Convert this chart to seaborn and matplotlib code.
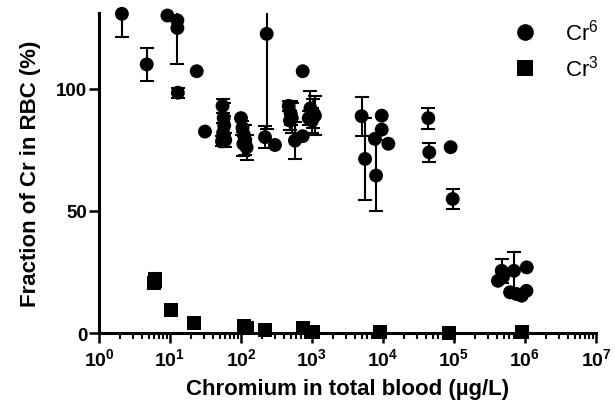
import matplotlib

matplotlib.use("Agg")

import matplotlib.pyplot as plt
import numpy as np
import pandas as pd
import seaborn as sns
from matplotlib.ticker import FixedLocator, LogLocator, NullFormatter

# Cr(VI) points: blood concentration (ug/L), fraction in RBC (%), SD
cr6_x = [2.1, 4.7, 9.2, 12.7, 12.7, 12.9, 23.8, 31.1,
         55, 57, 58, 56, 60, 54,
         100, 105, 110, 115, 120, 108, 230, 218, 301,
         470, 500, 520, 490, 575, 740, 740,
         950, 1050, 900, 1000, 1100,
         5000, 5600, 8000, 7700, 9600, 9600, 11900,
         43500, 44900, 89800, 96000,
         470000, 700000, 1060000, 417000, 490000, 617000, 760000, 900000, 1050000]
cr6_y = [130.7, 110, 130, 128, 124.9, 98.4, 107.2, 82.5,
         93, 88, 85, 82, 79, 78.5,
         88, 84, 81, 79, 76, 77.5, 122.5, 80.2, 77,
         93, 90, 88, 87, 78.8, 80.6, 107.2,
         92, 90, 88, 87, 89,
         88.8, 71.3, 64.5, 79.5, 89, 83.3, 77.5,
         88, 74, 76.1, 54.9,
         25.5, 25.5, 26.9, 21.4, 23, 16.7, 16, 15.3, 17.3]
cr6_sd = [9.3, 6.7, 0, 0, 14.7, 2, 0, 0,
          3, 6, 4, 4, 3, 2,
          0, 3, 4, 6, 5, 5, 39, 4.4, 0,
          2, 5, 6, 4, 7.5, 0, 0,
          7, 6, 3, 5, 8,
          8, 16.8, 14.6, 0, 0, 0, 0,
          4.3, 4, 0, 4,
          4.8, 7.5, 0, 0, 0, 0, 0, 0, 0]

# Cr(III) points
cr3_x = [6.1, 5.9, 10.3, 21.8, 110, 120, 218, 740, 1030, 9100, 85000, 910000]
cr3_y = [21.8, 20.5, 9.4, 4.1, 3.0, 2.0, 1.4, 2.3, 0.3, 0.3, 0.2, 0.5]
cr3_sd = [3, 0, 0, 0, 0, 0, 0, 0, 0, 0, 0, 0]

legend_labels = ["Cr$^{6}$", "Cr$^{3}$"]
y_ticks = [0, 50, 100]
x_decades = list(range(0, 8))

sns.set_style("ticks")
plt.rcParams["font.family"] = ["Liberation Sans", "DejaVu Sans"]
plt.rcParams["mathtext.fontset"] = "custom"
plt.rcParams["mathtext.rm"] = "Liberation Sans"
plt.rcParams["mathtext.bf"] = "Liberation Sans:bold"
plt.rcParams["mathtext.it"] = "Liberation Sans:italic"
for key in ("text.color", "axes.labelcolor", "xtick.color", "ytick.color", "axes.edgecolor"):
    plt.rcParams[key] = "black"

frame = pd.concat([
    pd.DataFrame({"conc": cr6_x, "frac": cr6_y, "sd": cr6_sd, "form": "Cr6"}),
    pd.DataFrame({"conc": cr3_x, "frac": cr3_y, "sd": cr3_sd, "form": "Cr3"}),
], ignore_index=True)

figure = plt.figure(figsize=(6.15, 4.14), dpi=100)
axis = figure.add_axes([0.161, 0.193, 0.808, 0.773])

# error bars first, clipped at the axis frame like the original
bars = frame[frame["sd"] > 0]
axis.errorbar(bars["conc"], bars["frac"], yerr=bars["sd"], fmt="none",
              ecolor="black", elinewidth=1.5, capsize=5, capthick=1.5, zorder=2)

sns.scatterplot(data=frame, x="conc", y="frac", style="form",
                markers={"Cr6": "o", "Cr3": "s"}, color="black",
                s=100, edgecolor="black", linewidth=0, ax=axis,
                clip_on=False, zorder=3)

axis.set_xscale("log")
axis.set_xlim(1, 1e7)
axis.set_ylim(0, 131)

axis.xaxis.set_major_locator(FixedLocator([10.0 ** d for d in x_decades]))
axis.set_xticklabels([r"$\mathbf{10^{%d}}$" % d for d in x_decades])
axis.xaxis.set_minor_locator(LogLocator(base=10, subs=np.arange(2, 10), numticks=20))
axis.xaxis.set_minor_formatter(NullFormatter())
axis.set_yticks(y_ticks)
axis.set_yticklabels([str(t) for t in y_ticks])

for label in axis.get_yticklabels():
    label.set_fontweight("bold")
axis.tick_params(axis="x", which="major", labelsize=14, length=7.5, width=1.8, pad=3)
axis.tick_params(axis="y", which="major", labelsize=13.5, length=7.5, width=1.8, pad=1)
axis.tick_params(axis="x", which="minor", length=4.5, width=1.5)

sns.despine(ax=axis)
for side in ("left", "bottom"):
    axis.spines[side].set_linewidth(2.2)

axis.set_xlabel("Chromium in total blood (µg/L)", fontsize=16, fontweight="bold", labelpad=6)
axis.set_ylabel("Fraction of Cr in RBC (%)", fontsize=16, fontweight="bold", labelpad=11)

handles, _ = axis.get_legend_handles_labels()
axis.legend(handles[-2:], legend_labels, loc="upper right", bbox_to_anchor=(1.045, 1.045),
            frameon=False, fontsize=16, markerscale=1.2, handletextpad=0.8,
            labelspacing=0.45)

figure.savefig("out.png", dpi=100)
plt.close(figure)
